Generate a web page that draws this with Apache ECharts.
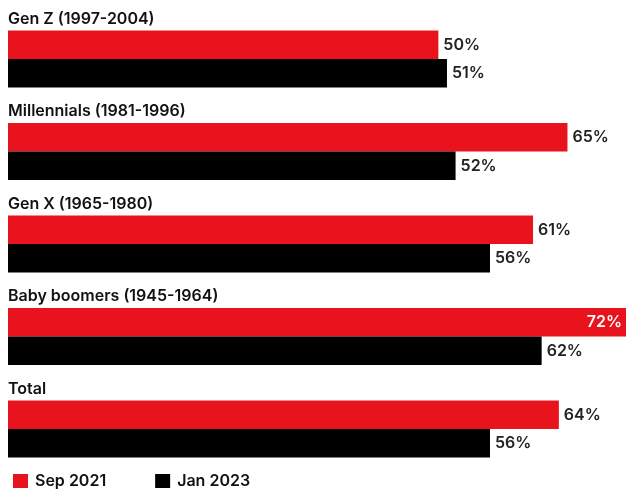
<!DOCTYPE html>
<html><head><meta charset="utf-8">
<script src="https://cdn.jsdelivr.net/npm/echarts@6/dist/echarts.min.js"></script>
<style>html,body{margin:0;padding:0;background:#fff}#c{width:626px;height:489px}</style>
</head><body><div id="c"></div>
<script>
const categories = ['Gen Z (1997-2004)', 'Millennials (1981-1996)', 'Gen X (1965-1980)', 'Baby boomers (1945-1964)', 'Total'];
const seriesNames = ['Sep 2021', 'Jan 2023'];
const sep2021 = [50, 65, 61, 72, 64];
const jan2023 = [51, 52, 56, 62, 56];

const FONT = 'Inter';
const chart = echarts.init(document.getElementById('c'), null, {renderer: 'canvas'});
chart.setOption({
  animation: false,
  textStyle: {fontFamily: FONT},
  grid: {left: 8, top: 12.75, right: 0, height: 462.5, containLabel: false},
  legend: {
    left: 8, top: 468, itemWidth: 15, itemHeight: 14, itemGap: 49, icon: 'rect',
    textStyle: {fontFamily: FONT, fontSize: 16, fontWeight: 600, color: '#111', padding: [0, 0, 0, 2]},
    data: seriesNames
  },
  xAxis: {type: 'value', min: 0, max: 71.8, show: false},
  yAxis: {
    type: 'category', data: categories, inverse: true,
    axisLine: {show: false}, axisTick: {show: false}, splitLine: {show: false},
    axisLabel: {
      inside: true, align: 'left', verticalAlign: 'bottom', margin: 0,
      padding: [0, 0, 32, 0],
      fontFamily: FONT, fontSize: 16, fontWeight: 600, color: '#111'
    }
  },
  series: [
    {
      name: seriesNames[0], type: 'bar', data: sep2021, barWidth: 28.5, barGap: '0%',
      itemStyle: {color: '#E8131C'},
      label: {
        show: true, position: 'right', distance: 5, formatter: '{c}%',
        fontFamily: FONT, fontSize: 16, fontWeight: 600, color: '#222'
      }
    },
    {
      name: seriesNames[1], type: 'bar', data: jan2023, barWidth: 28.5, barGap: '0%',
      itemStyle: {color: '#000'},
      label: {
        show: true, position: 'right', distance: 5, formatter: '{c}%',
        fontFamily: FONT, fontSize: 16, fontWeight: 600, color: '#222'
      }
    }
  ]
});
// value that runs off the chart edge gets its label inside
chart.setOption({
  series: [{
    data: sep2021.map(v => v >= 70 ? {value: v, label: {position: 'insideRight', distance: 4, color: '#fff'}} : v)
  }]
});
</script></body></html>
